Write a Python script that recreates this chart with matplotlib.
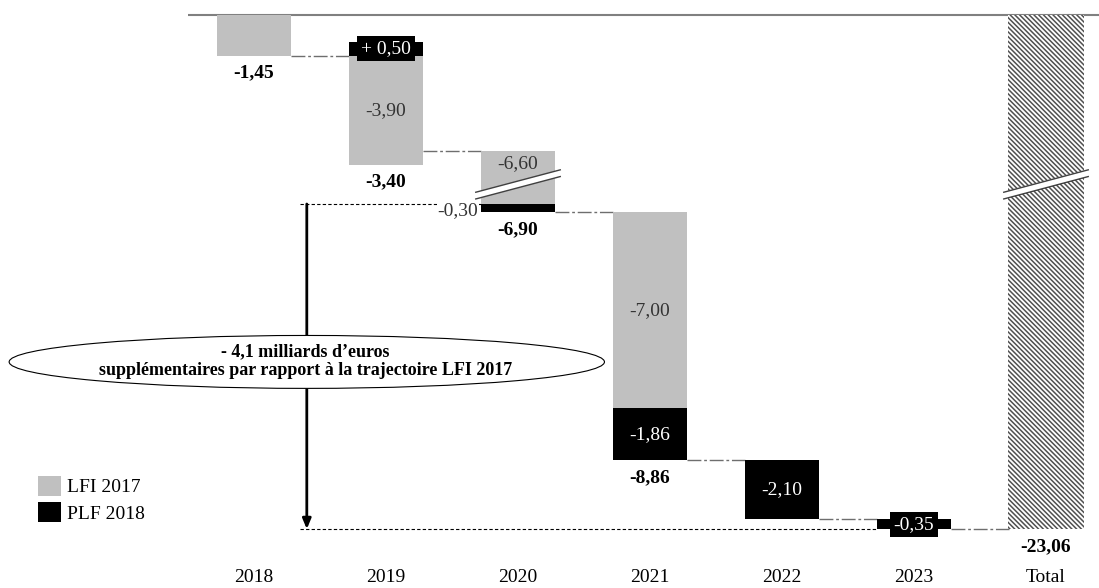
import matplotlib.pyplot as plt
from matplotlib.patches import Ellipse, Polygon, Patch

plt.rcParams["font.family"] = ["Liberation Serif", "DejaVu Serif"]

# Data (milliards d'euros)
categories = ["2018", "2019", "2020", "2021", "2022", "2023", "Total"]
lfi_2017 = [-1.45, -3.90, -6.60, -7.00, 0.0, 0.0]
plf_2018 = [0.0, 0.50, -0.30, -1.86, -2.10, -0.35]
year_labels = ["-1,45", "-3,40", "-6,90", "-8,86", None, None]
lfi_labels = [None, "-3,90", "-6,60", "-7,00", None, None]
plf_labels = [None, "+ 0,50", "-0,30", "-1,86", "-2,10", "-0,35"]
total_label = "-23,06"
annotation = "- 4,1 milliards d\u2019euros\nsupplémentaires par rapport à la trajectoire LFI 2017"
axis_break = 4.7     # part of the 2020 and Total bars hidden by the break
broken_bar = 2       # index of the broken year bar

GRAY = "#c0c0c0"
W = 0.56

fig = plt.figure(figsize=(10.99, 5.88), dpi=100)
ax = fig.add_axes([0, 0, 1, 1])
ax.axis("off")
ax.set_xlim(-254 / 132, (1099 - 254) / 132)
ax.set_ylim((15 - 588) / 28, 15 / 28)

# top baseline
ax.hlines(0, -0.5, 6.6, color="#808080", lw=1.5, zorder=1)

conn = dict(color="#6e6e6e", lw=1, linestyle=(0, (10, 2, 2, 2)), zorder=1)
break_mid = -6.05


def draw_break(x):
    slope, half, dx = 1.25, 0.12, 0.32
    xs = [x - dx, x + dx]
    ys = [break_mid - slope * dx, break_mid + slope * dx]
    poly = Polygon([(xs[0], ys[0] + half), (xs[1], ys[1] + half),
                    (xs[1], ys[1] - half), (xs[0], ys[0] - half)],
                   closed=True, fc="white", ec="none", zorder=4)
    ax.add_patch(poly)
    for s in (half, -half):
        ax.plot(xs, [ys[0] + s, ys[1] + s], color="#404040", lw=1, zorder=5)


level = 0.0
levels = []
gray_end_2020 = None
for i in range(6):
    start = level
    lfi = lfi_2017[i] + (axis_break if i == broken_bar else 0)
    plf = plf_2018[i]
    if lfi != 0:
        ax.bar(i, lfi, bottom=start, width=W, color=GRAY, zorder=2)
        if lfi_labels[i]:
            ly = start - 0.45 if i == broken_bar else start + lfi / 2
            ax.text(i, ly, lfi_labels[i], ha="center", va="center",
                    fontsize=14, color="#333333", zorder=6)
    if plf > 0:
        ax.bar(i, plf, bottom=start, width=W, color="black", zorder=3)
        low = start + lfi
        level = start + plf + lfi
        ax.text(i, start + plf / 2, plf_labels[i], ha="center", va="center",
                fontsize=14, color="white", zorder=6,
                bbox=dict(fc="black", ec="none", pad=3))
    elif plf < 0:
        b = start + lfi
        if i == broken_bar:
            gray_end_2020 = b
        ax.bar(i, plf, bottom=b, width=W, color="black", zorder=3)
        low = b + plf
        level = low
        if i == broken_bar:
            ax.text(i - W / 2 - 0.02, b + plf / 2 - 0.1, plf_labels[i],
                    ha="right", va="center", fontsize=14, color="#333333",
                    zorder=6, bbox=dict(fc="white", ec="none", pad=0.5))
        elif abs(plf) < 0.5:
            ax.text(i, b + plf / 2, plf_labels[i], ha="center", va="center",
                    fontsize=14, color="white", zorder=6,
                    bbox=dict(fc="black", ec="none", pad=3))
        else:
            ax.text(i, b + plf / 2, plf_labels[i], ha="center", va="center",
                    fontsize=14, color="white", zorder=6)
    else:
        low = start + lfi
        level = low
    levels.append(level)
    if year_labels[i]:
        ax.text(i, low - 0.62, year_labels[i], ha="center", va="center",
                fontsize=14, fontweight="bold", zorder=6)
    if i == broken_bar:
        draw_break(i)

# connectors between bars
for i in range(6):
    ax.hlines(levels[i], i + W / 2, i + 1 - W / 2, **conn)

# total bar (hatched, broken)
total = sum(lfi_2017) + sum(plf_2018)
plt.rcParams["hatch.linewidth"] = 1.1
ax.bar(6, total + axis_break, bottom=0, width=0.57, color="white",
       edgecolor="#505050", hatch="\\" * 7, lw=0, zorder=2)
draw_break(6)
ax.text(6, total + axis_break - 0.62, total_label, ha="center", va="center",
        fontsize=14, fontweight="bold", zorder=6)

# trajectory gap arrow + dashed references
ax_x = 0.40
ax.hlines(gray_end_2020, ax_x - 0.05, broken_bar - W / 2, color="black",
          lw=0.8, linestyle=(0, (3, 2)), zorder=1)
ax.hlines(levels[-1], ax_x - 0.05, 5 - W / 2, color="black",
          lw=0.8, linestyle=(0, (3, 2)), zorder=1)
ax.annotate("", xy=(ax_x, levels[-1]), xytext=(ax_x, gray_end_2020),
            arrowprops=dict(arrowstyle="-|>,head_length=0.6,head_width=0.25",
                            color="black", lw=2, shrinkA=0, shrinkB=0),
            zorder=3)

ell = Ellipse((0.40, -12.39), 4.51, 1.89, fc="white", ec="black", lw=0.8,
              zorder=7)
ax.add_patch(ell)
ax.text(0.39, -12.36, annotation, ha="center", va="center", fontsize=13,
        fontweight="bold", linespacing=1.15, zorder=8)

# category labels
for i, c in enumerate(categories):
    ax.text(i, (15 - 578) / 28, c, ha="center", va="center", fontsize=14)

# legend
fig.legend(handles=[Patch(fc=GRAY, label="LFI 2017"),
                    Patch(fc="black", label="PLF 2018")],
           loc="upper left", bbox_to_anchor=(28 / 1099, 1 - 466 / 588),
           frameon=False, fontsize=14, handlelength=1.2, handleheight=1.2,
           handletextpad=0.3, labelspacing=0.3, borderpad=0)

fig.savefig("out.png", dpi=100)
